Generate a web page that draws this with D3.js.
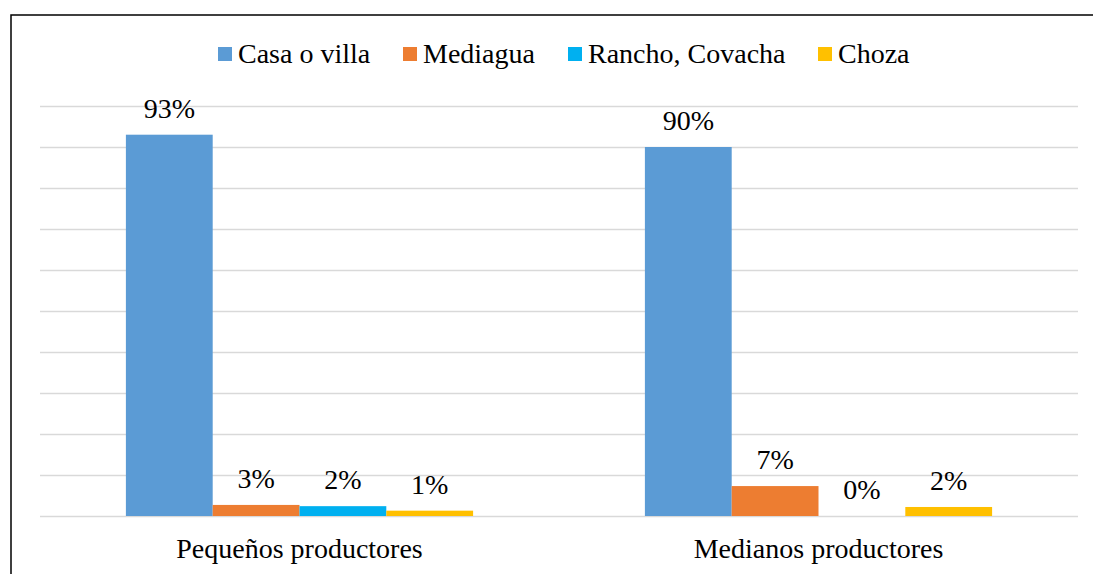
<!DOCTYPE html>
<html>
<head>
<meta charset="utf-8">
<script src="https://cdn.jsdelivr.net/npm/d3@7"></script>
<style>
  body { margin: 0; background: #fff; }
  svg { display: block; }
  svg text { font-family: 'Liberation Serif', 'DejaVu Serif', serif !important; fill: #000; }
</style>
</head>
<body>
<svg></svg>
<script>
let categories = ['Pequeños productores', 'Medianos productores']
let series = ['Casa o villa', 'Mediagua', 'Rancho, Covacha', 'Choza']
let colors = ['#5B9BD5', '#ED7D31', '#00B0F0', '#FFC000']
// values per category, in series order (percent)
let pequenos = [93, 2.7, 2.4, 1.3]
let medianos = [90, 7.3, 0, 2.2]
let labelsPequenos = ['93%', '3%', '2%', '1%']
let labelsMedianos = ['90%', '7%', '0%', '2%']
let gridTicks = [0, 10, 20, 30, 40, 50, 60, 70, 80, 90, 100]

let width = 1093
let height = 574
let plotLeft = 40, plotRight = 1078, plotTop = 106, plotBottom = 516
let serif = "'Liberation Serif', 'DejaVu Serif', serif"
let fontSize = '28px'

let svg = d3.select('svg').attr('width', width).attr('height', height)

// outer frame
svg.append('rect')
  .attr('x', 11).attr('y', 15)
  .attr('width', 1100).attr('height', 600)
  .attr('fill', 'none').attr('stroke', '#000').attr('stroke-width', 1.5)

let yScale = d3.scaleLinear().domain([0, 100]).range([plotBottom, plotTop])
let xScale = d3.scaleBand().domain(categories).range([plotLeft, plotRight])
  .paddingInner(0.331).paddingOuter(0.1655)
let xSub = d3.scaleBand().domain(series).range([0, xScale.bandwidth()])

// gridlines
let yAxis = d3.axisLeft(yScale).tickValues(gridTicks).tickSize(-(plotRight - plotLeft)).tickFormat('')
let gy = svg.append('g').attr('transform', 'translate(' + plotLeft + ',0)').call(yAxis)
gy.select('.domain').remove()
gy.selectAll('.tick line').attr('stroke', '#d9d9d9').attr('stroke-width', 1.5)

let rows = [
  { cat: categories[0], vals: pequenos, labels: labelsPequenos },
  { cat: categories[1], vals: medianos, labels: labelsMedianos }
]

let groups = svg.selectAll('g.group')
  .data(rows)
  .enter()
  .append('g')
  .attr('class', 'group')
  .attr('transform', (d) => 'translate(' + xScale(d.cat) + ',0)')

groups.selectAll('rect')
  .data((d) => d.vals.map((v, i) => ({ s: series[i], v: v, c: colors[i] })))
  .enter()
  .append('rect')
  .attr('x', (d) => xSub(d.s))
  .attr('width', xSub.bandwidth())
  .attr('y', (d) => yScale(d.v))
  .attr('height', (d) => plotBottom - yScale(d.v))
  .attr('fill', (d) => d.c)

groups.selectAll('text.val')
  .data((d) => d.vals.map((v, i) => ({ s: series[i], v: v, l: d.labels[i] })))
  .enter()
  .append('text')
  .attr('class', 'val')
  .attr('x', (d) => xSub(d.s) + xSub.bandwidth() / 2)
  .attr('y', (d) => yScale(d.v) - 17)
  .attr('text-anchor', 'middle')
  .style('font-family', serif)
  .style('font-size', fontSize)
  .text((d) => d.l)

// category labels
let xAxis = d3.axisBottom(xScale).tickSize(0).tickPadding(0)
let gx = svg.append('g').attr('transform', 'translate(0,' + plotBottom + ')').call(xAxis)
gx.attr('font-family', null).attr('font-size', null)
gx.select('.domain').remove()
gx.selectAll('.tick text')
  .attr('dy', null).attr('y', 42)
  .style('font-size', fontSize)
  .style('font-family', serif)
  .attr('fill', '#000')

// legend
let legendX = [218, 403, 568, 818]
let legend = svg.selectAll('g.leg')
  .data(series)
  .enter()
  .append('g')
  .attr('class', 'leg')
  .attr('transform', (d, i) => 'translate(' + legendX[i] + ',0)')
legend.append('rect')
  .attr('x', 0).attr('y', 47).attr('width', 14).attr('height', 14)
  .attr('fill', (d, i) => colors[i])
legend.append('text')
  .attr('x', 20).attr('y', 63)
  .style('font-family', serif)
  .style('font-size', fontSize)
  .text((d) => d)
</script>
</body>
</html>
